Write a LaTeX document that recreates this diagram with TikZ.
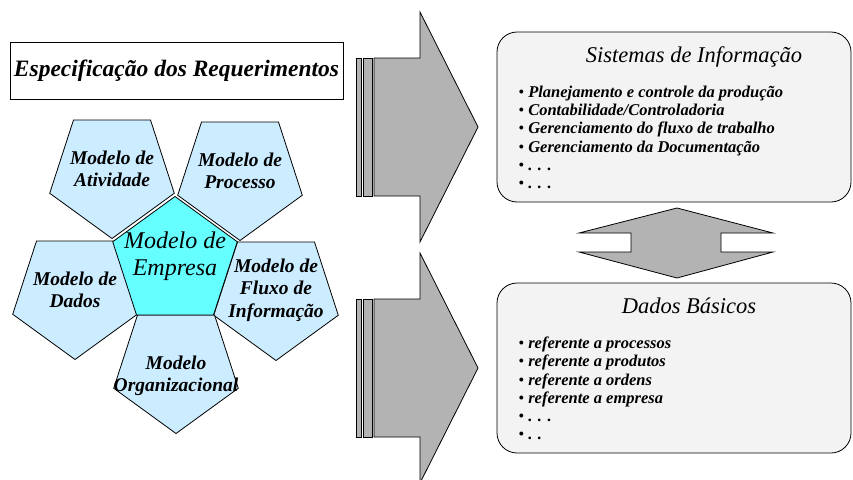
\documentclass[tikz,border=0pt]{standalone}
\usepackage{fontspec}
\setmainfont{Liberation Serif}
\usepackage{xcolor}
\usetikzlibrary{shapes, positioning}

\definecolor{pentblue}{RGB}{204,236,255}
\definecolor{pentcyan}{RGB}{102,255,255}
\definecolor{arrowgray}{RGB}{179,179,179}
\definecolor{boxgray}{RGB}{243,243,243}

\newcommand{\itembullet}{{\mdseries\textbullet}\ }

\begin{document}
\begin{tikzpicture}[x=1pt, y=-1pt, line width=0.8pt,
    pent/.style={regular polygon, regular polygon sides=5, minimum size=131pt, inner sep=0pt, draw, fill=pentblue, shape border rotate=180},
    pentlabel/.style={align=center, inner sep=0pt, font=\fontsize{19.5}{22.5}\selectfont\bfseries\itshape},
    infobox/.style={draw, rounded corners=20pt, fill=boxgray, minimum width=354pt, minimum height=170pt},
    boxtitle/.style={anchor=base, inner sep=0pt, font=\fontsize{22.5}{26}\selectfont\itshape},
    itemlist/.style={align=left, anchor=north west, inner sep=0pt, font=\fontsize{16.5}{18.2}\selectfont\bfseries\itshape},
    bigarrow/.style={draw, fill=arrowgray, line join=miter}]

    \useasboundingbox (0,0) rectangle (853,479);
    \clip (0,0) rectangle (853,479);

    % requirements box
    \node[draw, minimum width=333pt, minimum height=57pt, inner sep=0pt, font=\fontsize{23.5}{26}\selectfont\bfseries\itshape] (spec) at (176.5,70.5) {Especificação dos Requerimentos};

    % the five partial models round the enterprise model
    \node[pent] (ativ) at (112,173) {};
    \node[pent] (proc) at (240,175) {};
    \node[pent] (dados) at (75,294) {};
    \node[pent] (fluxo) at (276,295) {};
    \node[pent] (org) at (176,368) {};
    \node[pent, fill=pentcyan, shape border rotate=0] (emp) at (175,262) {};

    \node[pentlabel] (ativtxt) at ([yshift=4pt]ativ.center) {Modelo de\\Atividade};
    \node[pentlabel] (proctxt) at ([yshift=4pt]proc.center) {Modelo de\\Processo};
    \node[pentlabel] (dadostxt) at ([yshift=4pt]dados.center) {Modelo de\\Dados};
    \node[pentlabel] (fluxotxt) at ([yshift=5pt]fluxo.center) {Modelo de\\Fluxo de\\Informação};
    \node[pentlabel] (orgtxt) at ([yshift=-8pt]org.center) {Modelo\\Organizacional};
    \node[pentlabel, font=\fontsize{24}{27}\selectfont\itshape] (emptxt) at ([yshift=6pt]emp.center) {Modelo de\\Empresa};

    % big arrows
    \foreach \y in {0,241} {
        \begin{scope}[shift={(0,\y)}]
            \draw[bigarrow] (356,58) rectangle (361,196);
            \draw[bigarrow] (363.5,58) rectangle (372,196);
            \draw[bigarrow] (374,58) -- (420,58) -- (420,12) -- (478,127) -- (420,242) -- (420,196) -- (374,196) -- cycle;
        \end{scope}
    }

    % information systems and basic data
    \node[infobox] (sis) at (674,117) {};
    \node[infobox] (dad) at (674,368) {};

    \node[boxtitle] (sistit) at (694,62) {Sistemas de Informação};
    \node[itemlist] (sislist) at (518,85.6) {\itembullet Planejamento e controle da produção\\
        \itembullet Contabilidade/Controladoria\\
        \itembullet Gerenciamento do fluxo de trabalho\\
        \itembullet Gerenciamento da Documentação\\
        {\mdseries\textbullet} . . .\\
        {\mdseries\textbullet} . . .};

    \node[boxtitle] (dadtit) at (689,313) {Dados Básicos};
    \node[itemlist] (dadlist) at (518,336.7) {\itembullet referente a processos\\
        \itembullet referente a produtos\\
        \itembullet referente a ordens\\
        \itembullet referente a empresa\\
        {\mdseries\textbullet} . . .\\
        {\mdseries\textbullet} . .};

    % double arrow between the boxes
    \draw[bigarrow] (677,208) -- (773,233) -- (721,233) -- (721,252) -- (773,252) -- (677,278) -- (579,252) -- (631,252) -- (631,233) -- (579,233) -- cycle;
\end{tikzpicture}
\end{document}
